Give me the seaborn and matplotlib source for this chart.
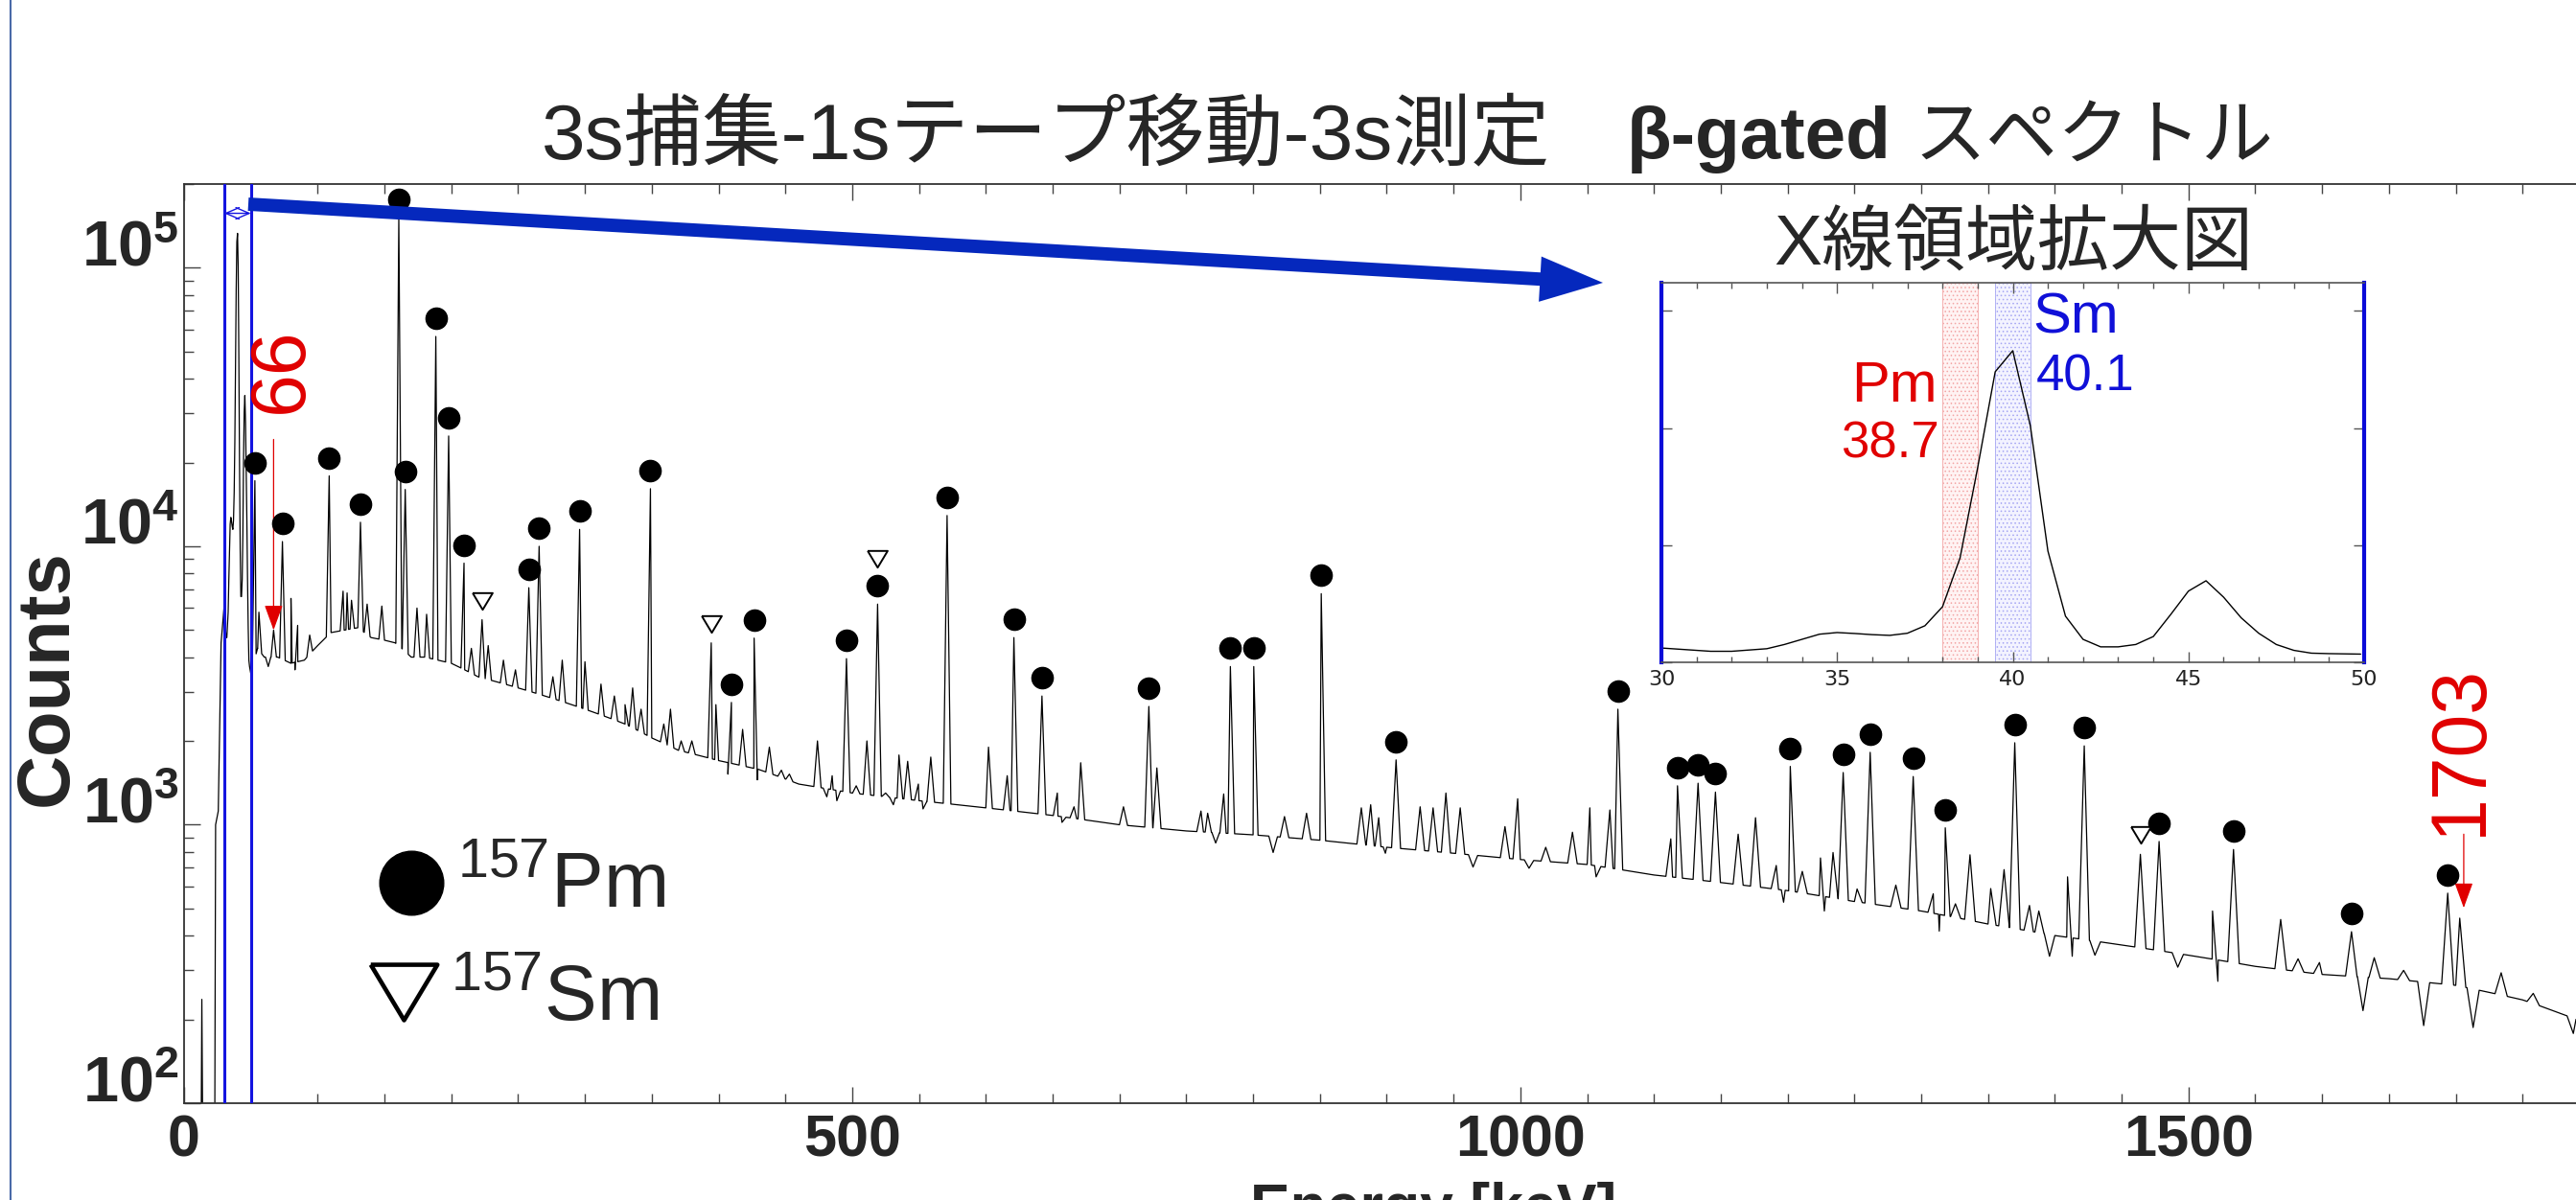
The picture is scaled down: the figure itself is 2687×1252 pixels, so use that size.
import numpy as np
import pandas as pd
import matplotlib
matplotlib.use("Agg")
import matplotlib.pyplot as plt
import seaborn as sns
from matplotlib import transforms
from matplotlib.lines import Line2D
from matplotlib.patches import FancyArrowPatch, ArrowStyle
from matplotlib.ticker import MultipleLocator, LogLocator, NullFormatter

# ---- values (energy in keV, counts) ----
low_energy = [12.5, 13.3, 14.3, 22.8, 23.6, 25.6, 27.7]
low_counts = [40, 236, 40, 40, 1000, 1120, 4500]

# X-ray region, also shown in the inset
xray_energy = [30.0, 31.4, 32.0, 33.0, 33.5, 34.5, 35.0, 35.5, 36.0, 36.5,
               37.0, 37.5, 38.0, 38.5, 39.0, 39.5, 40.0, 40.5, 41.0, 41.5,
               42.0, 42.5, 43.0, 43.5, 44.0, 44.5, 45.0, 45.5, 46.0, 46.5,
               47.0, 47.5, 48.0, 48.5, 49.0, 49.9]
xray_counts = [6100, 4700, 4700, 5800, 7600, 12000, 12700, 12300, 11800, 11500,
               12400, 15600, 23700, 44600, 83000, 124000, 133000, 101000, 47500, 19700,
               9800, 6600, 6600, 7600, 11000, 20500, 30400, 34800, 27800, 19000,
               12400, 7600, 5100, 3900, 3700, 3500]

# continuum under the peaks
bg_energy = [51, 55, 60, 70, 80, 90, 100, 110, 120, 130, 140, 150, 158, 170, 180,
             190, 200, 210, 220, 230, 250, 270, 290, 310, 330, 350, 370, 400, 430,
             460, 500, 550, 600, 650, 700, 750, 800, 850, 900, 950, 1000, 1050,
             1100, 1150, 1200, 1250, 1300, 1350, 1400, 1450, 1500, 1550, 1600,
             1650, 1700, 1750, 1790]
bg_counts = [3600, 4300, 4000, 4000, 3800, 3900, 4400, 4900, 5000, 5100, 4700, 4600,
             4500, 4000, 4000, 3900, 3800, 3600, 3400, 3300, 3100, 2900, 2700, 2500,
             2300, 2050, 1850, 1700, 1580, 1400, 1300, 1220, 1150, 1080, 1000, 950,
             920, 880, 830, 790, 750, 720, 660, 620, 580, 530, 490, 440, 400, 370,
             340, 310, 290, 280, 265, 235, 200]

# 157Pm lines (filled circles)
pm_energy = [53, 73.6, 108.6, 132, 160.7, 165.5, 188.4, 198, 209.5, 258, 265.7,
             296, 349, 409.6, 426.6, 495.7, 519, 571, 621, 642, 722, 783, 800.5,
             851, 907, 1073, 1117.6, 1133, 1146, 1202, 1241.6, 1261.8, 1294, 1318,
             1370, 1422, 1478, 1533.7, 1622, 1694]
pm_counts = [17200, 10400, 17900, 12200, 152000, 16000, 56700, 24900, 8700, 7100,
             10000, 11500, 16100, 2750, 4680, 3950, 6200, 12900, 4700, 2900, 2660,
             3700, 3700, 6760, 1710, 2600, 1380, 1410, 1310, 1620, 1540, 1820, 1490,
             975, 1970, 1920, 871, 815, 413, 568]

# 157Sm lines (open triangles)
sm_energy = [223, 394.5, 519, 1464]
sm_counts = [5450, 4500, 6200, 783]

# unmarked lines and small bumps
other_energy = [56, 67, 80, 85, 94, 119, 122, 125.3, 137, 148, 174.3, 181.5, 215,
                227.6, 239, 248, 276, 283, 300, 312, 322, 330, 335.7, 342, 359, 364,
                372, 380, 398, 418, 438, 447, 453, 474, 485, 503, 511, 525, 535,
                541.5, 549.5, 558.8, 602, 616, 653.5, 666, 671, 703, 728, 761, 766,
                778, 823.5, 840, 881, 888, 894, 925, 934.7, 944.3, 955, 988.5, 998,
                1019, 1039, 1052, 1067, 1112.6, 1163, 1176, 1191.5, 1211, 1224.6,
                1234, 1252, 1281, 1309, 1325.6, 1336.5, 1352, 1362, 1381, 1388,
                1409.5, 1518, 1569, 1582, 1598, 1639, 1661, 1703, 1734, 1758]
other_counts = [5800, 5000, 6500, 5200, 4800, 6900, 6800, 6400, 6200, 6100, 6000,
                5700, 4300, 4400, 3900, 3600, 3400, 3900, 3850, 3200, 2900, 2700,
                3100, 2600, 2300, 2600, 2000, 2000, 2700, 2200, 1900, 1570, 1520,
                2000, 1500, 1380, 2000, 1300, 1780, 1690, 1400, 1750, 1900, 1500,
                1300, 1160, 1670, 1160, 1600, 1120, 1100, 1290, 1070, 1100, 1150,
                1180, 1060, 1160, 1150, 1300, 1150, 985, 1240, 830, 940, 1150, 1130,
                890, 925, 1060, 714, 680, 760, 795, 588, 607, 565, 520, 780, 590, 690,
                513, 490, 650, 490, 457, 330, 320, 333, 300, 462, 294, 248]

# downward noise spikes
dip_energy = [63, 83, 407, 429, 481, 488.5, 530.8, 553, 657, 772, 815, 899, 964.6,
              1006.5, 1056.7, 1197, 1227.5, 1313.5, 1396, 1413, 1430, 1492, 1522,
              1630.6, 1676, 1713, 1788]
dip_counts = [3700, 3600, 1520, 1450, 1260, 1220, 1180, 1140, 1020, 860, 795, 790,
              705, 698, 650, 527, 490, 415, 337, 337, 340, 308, 274, 215, 190, 187,
              178]

xtick_values = [0, 500, 1000, 1500]
xtick_labels = ["0", "500", "1000", "1500"]
ytick_values = [1e2, 1e3, 1e4, 1e5]
ytick_labels = [r"$\mathbf{10^{2}}$", r"$\mathbf{10^{3}}$",
                r"$\mathbf{10^{4}}$", r"$\mathbf{10^{5}}$"]

inset_ticks = [30, 35, 40, 45, 50]
pm_band = (38.0, 39.0)
sm_band = (39.5, 40.5)

# ---- build the spectrum polyline: continuum + narrow spikes ----
spike_e = np.array(pm_energy + [e for e in sm_energy if e not in pm_energy]
                   + other_energy + dip_energy, float)
spike_c = np.array(pm_counts + [c for e, c in zip(sm_energy, sm_counts) if e not in pm_energy]
                   + other_counts + dip_counts, float)
half_w = 2.0 + 0.0015 * spike_e
left_base = np.interp(spike_e - half_w, bg_energy, bg_counts)
right_base = np.interp(spike_e + half_w, bg_energy, bg_counts)

spec = pd.DataFrame({
    "energy": np.concatenate([low_energy, xray_energy, bg_energy,
                              spike_e - half_w, spike_e, spike_e + half_w]),
    "counts": np.concatenate([low_counts, xray_counts, bg_counts,
                              left_base, spike_c, right_base]),
}).sort_values("energy", kind="mergesort")

# ---- style ----
sns.set_theme(style="ticks")
plt.rcParams["font.family"] = ["Liberation Sans", "Noto Sans CJK JP", "DejaVu Sans"]
plt.rcParams["mathtext.fontset"] = "custom"
plt.rcParams["mathtext.rm"] = "Liberation Sans"
plt.rcParams["mathtext.bf"] = "Liberation Sans:bold"
plt.rcParams["hatch.linewidth"] = 0.6

W, H = 2687, 1252
fig = plt.figure(figsize=(W / 100, H / 100), dpi=100)
fig.patch.set_facecolor("white")


def fpos(x, y):
    # pixel position in the picture -> figure fraction
    return x / W, 1 - y / H


RED = "#e00000"
BLUE = "#1414e0"

# ---- main spectrum ----
ax = fig.add_axes([192 / W, 1 - 1151 / H, (W - 192) / W, (1151 - 192) / H])
ax.set_yscale("log")
sns.lineplot(data=spec, x="energy", y="counts", ax=ax, color="black", lw=0.9,
             estimator=None, sort=False)
ax.set_xlim(0, 1790)
ax.set_ylim(104, 2.0e5)
ax.set_xlabel("")
ax.set_ylabel("")

ax.set_xticks(xtick_values, labels=xtick_labels, fontsize=44, fontweight="bold")
ax.xaxis.set_minor_locator(MultipleLocator(50))
ax.set_yticks(ytick_values, labels=ytick_labels, fontsize=48)
ax.yaxis.set_minor_locator(LogLocator(base=10, subs=np.arange(2, 10)))
ax.yaxis.set_minor_formatter(NullFormatter())
ax.tick_params(which="both", direction="in", top=True, right=False,
               color="#444444", width=1.0)
ax.tick_params(which="major", length=12)
ax.tick_params(which="minor", length=7)
ax.tick_params(axis="x", pad=8)
ax.tick_params(axis="y", pad=4)
for s in ["left", "top", "bottom"]:
    ax.spines[s].set_color("#333333")
    ax.spines[s].set_linewidth(1.3)
ax.spines["right"].set_visible(False)

# region lines of the inset
for e in (xray_energy[0], 50):
    ax.axvline(e, color=BLUE, lw=2.2, zorder=3)
ax.annotate("", xy=(30, 1.57e5), xytext=(50, 1.57e5),
            arrowprops=dict(arrowstyle=ArrowStyle("<->", head_length=10, head_width=4.3),
                            mutation_scale=1, color=BLUE, lw=1.0,
                            shrinkA=0, shrinkB=0))

# peak markers
tri = [(-1.2, 1), (1.2, 1), (0, -1), (-1.2, 1)]
circ_tr = transforms.offset_copy(ax.transData, fig=fig, x=0, y=19, units="dots")
ax.plot(pm_energy, pm_counts, ls="none", marker="o", ms=16, color="black",
        transform=circ_tr, clip_on=False, zorder=4)
sm_alone = [(e, c) for e, c in zip(sm_energy, sm_counts) if e not in pm_energy]
sm_stack = [(e, c) for e, c in zip(sm_energy, sm_counts) if e in pm_energy]
for pts, dy in ((sm_alone, 20), (sm_stack, 47)):
    tr = transforms.offset_copy(ax.transData, fig=fig, x=0, y=dy, units="dots")
    ax.plot([p[0] for p in pts], [p[1] for p in pts], ls="none", marker=tri,
            ms=15, mfc="white", mec="black", mew=1.4, transform=tr,
            clip_on=False, zorder=4)

# red arrows to 66 keV and 1703 keV
red_arrow = dict(arrowstyle=ArrowStyle("-|>", head_length=1.65, head_width=0.6),
                 mutation_scale=10, color=RED, lw=0.9, shrinkA=0, shrinkB=0)
ax.annotate("", xy=(67, 5000), xytext=(67, 24200), arrowprops=red_arrow)
ax.annotate("", xy=(1706, 503), xytext=(1706, 925), arrowprops=red_arrow)
fig.text(*fpos(294, 386), "66", rotation=90, ha="center", va="center",
         fontsize=58, color=RED)
fig.text(*fpos(2567, 783), "1703", rotation=90, ha="center", va="center",
         fontsize=58, color=RED)

# big blue arrow to the inset
big = FancyArrowPatch(fpos(259, 213), fpos(1672, 295), transform=fig.transFigure,
                      arrowstyle=ArrowStyle.Simple(head_length=3.4, head_width=2.45,
                                                   tail_width=0.72),
                      mutation_scale=13.9, color="#0528bd", lw=0,
                      shrinkA=0, shrinkB=0, zorder=5)
fig.add_artist(big)

# ---- inset: X-ray region ----
axin = fig.add_axes([1733 / W, 1 - 691 / H, 733 / W, 396 / H])
axin.axvspan(*pm_band, facecolor="#fff3f3", edgecolor="#f3a6a6", hatch="....",
             lw=0.6, zorder=0)
axin.axvspan(*sm_band, facecolor="#f3f3ff", edgecolor="#a6a6f3", hatch="....",
             lw=0.6, zorder=0)
sns.lineplot(x=xray_energy, y=xray_counts, ax=axin, color="black", lw=1.0,
             estimator=None, sort=False)
axin.set_xlim(30, 50)
axin.set_ylim(0, 1.62e5)
axin.set_xticks(inset_ticks, labels=[str(t) for t in inset_ticks], fontsize=16,
                fontfamily="DejaVu Sans", color="#222222")
axin.xaxis.set_minor_locator(MultipleLocator(1))
axin.yaxis.set_major_locator(MultipleLocator(5e4))
axin.tick_params(which="both", direction="in", top=True, right=True,
                 labelleft=False, color="#555555", width=1.0, pad=6)
axin.tick_params(which="major", length=8)
axin.tick_params(which="minor", length=4)
for s in ["left", "right"]:
    axin.spines[s].set_color("#0a0ad8")
    axin.spines[s].set_linewidth(3)
for s in ["top", "bottom"]:
    axin.spines[s].set_color("#555555")
    axin.spines[s].set_linewidth(1.2)

fig.text(*fpos(2100, 276), "X線領域拡大図", ha="center", va="baseline", fontsize=54)
fig.text(*fpos(2021, 419), "Pm", ha="right", va="baseline", fontsize=43, color=RED)
fig.text(*fpos(2023, 477), "38.7", ha="right", va="baseline", fontsize=38, color=RED)
fig.text(*fpos(2120, 348), "Sm", ha="left", va="baseline", fontsize=43, color="#1010d8")
fig.text(*fpos(2124, 408), "40.1", ha="left", va="baseline", fontsize=38, color="#1010d8")

# ---- titles and labels ----
fig.text(*fpos(565, 165), "3s捕集-1sテープ移動-3s測定", ha="left", va="baseline",
         fontsize=59)
fig.text(*fpos(1697, 165), "β-gated", ha="left", va="baseline", fontsize=55,
         fontweight="bold")
fig.text(*fpos(1996, 165), "スペクトル", ha="left", va="baseline", fontsize=54)
fig.text(*fpos(49, 707), "Counts", rotation=90, ha="center", va="center",
         fontsize=56, fontweight="bold")
fig.text(*fpos(1495, 1279), "Energy [keV]", ha="center", va="baseline",
         fontsize=45, fontweight="bold")

# ---- legend ----
fig.add_artist(Line2D([fpos(429, 921)[0]], [fpos(429, 921)[1]], marker="o", ms=48,
                      color="black", ls="none", transform=fig.transFigure))
fig.add_artist(Line2D([fpos(421, 1035)[0]], [fpos(421, 1035)[1]], marker=tri, ms=50,
                      mfc="white", mec="black", mew=3.3, ls="none",
                      transform=fig.transFigure))
fig.text(*fpos(477, 947), r"$^{157}$Pm", ha="left", va="baseline", fontsize=59)
fig.text(*fpos(470, 1065), r"$^{157}$Sm", ha="left", va="baseline", fontsize=59)

# slide frame line at the far left
fig.add_artist(Line2D([11 / W, 11 / W], [0, 1], color="#4a6aa8", lw=1.5,
                      transform=fig.transFigure))

# y tick labels sit a little above their ticks in the original
lift = transforms.ScaledTranslation(0, 26 / 100, fig.dpi_scale_trans)
for t in ax.yaxis.get_major_ticks():
    t.label1.set_transform(t.label1.get_transform() + lift)

fig.savefig("out.png", dpi=100, facecolor="white")
